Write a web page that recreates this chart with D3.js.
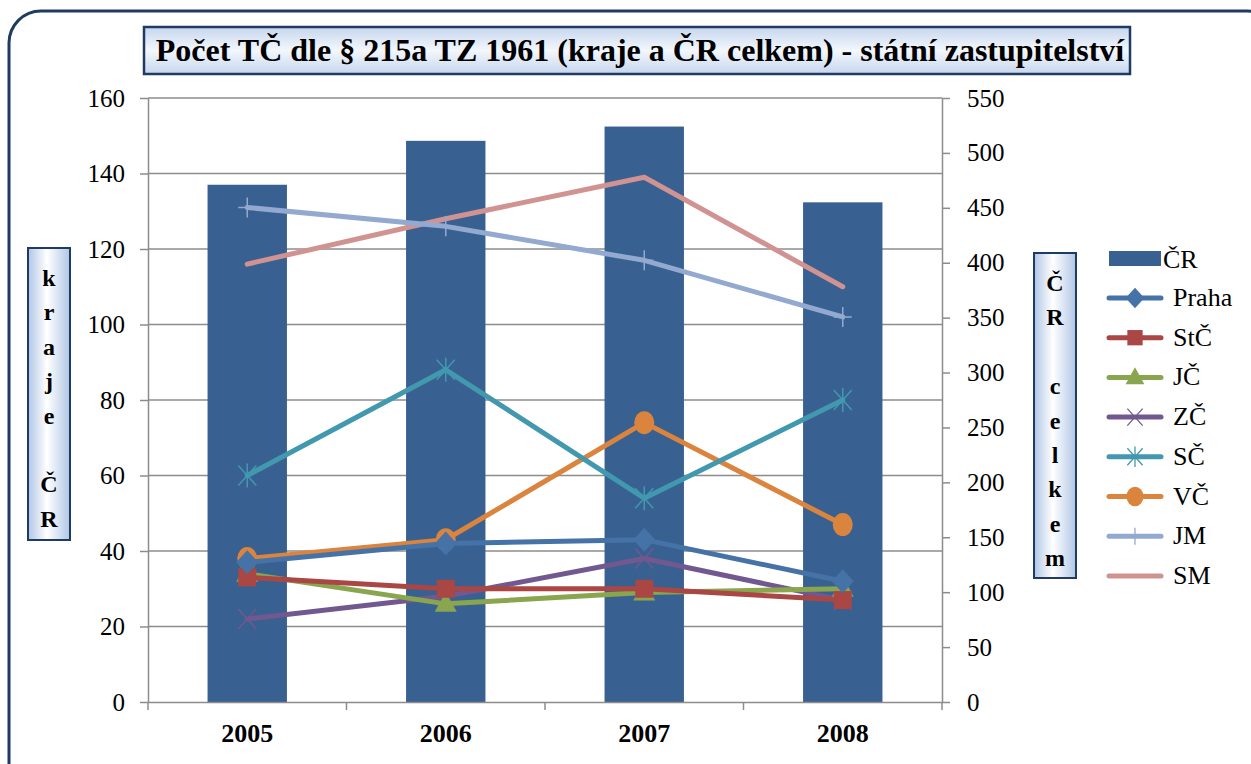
<!DOCTYPE html>
<html>
  <head>
    <meta charset="utf-8">
    <title>Počet TČ dle § 215a TZ 1961</title>
    <script src="https://cdn.jsdelivr.net/npm/d3@7"></script>
    <style>
      body { margin: 0; background: #fff; }
      svg { display: block; font-family: "Liberation Serif", "Times New Roman", serif; }
    </style>
  </head>
  <body>
    <svg id="chart" width="1251" height="764"></svg>

    <script>
      // data
      years = ["2005", "2006", "2007", "2008"];
      totalCR = [471, 511, 524, 455];
      regionNames = ["Praha", "StČ", "JČ", "ZČ", "SČ", "VČ", "JM", "SM"];
      praha = [37, 42, 43, 32];
      stc = [33, 30, 30, 27];
      jc = [34, 26, 29, 30];
      zc = [22, 28, 38, 27];
      sc = [60, 88, 54, 80];
      vc = [38, 43, 74, 47];
      jm = [131, 126, 117, 102];
      sm = [116, 128, 139, 110];
      leftTicks = [0, 20, 40, 60, 80, 100, 120, 140, 160];
      rightTicks = [0, 50, 100, 150, 200, 250, 300, 350, 400, 450, 500, 550];

      colours = ["#4572A7", "#AA4643", "#89A54E", "#71588F", "#4198AF", "#DB843D", "#93A9CF", "#D19392"];
      markers = ["diamond", "square", "triangle", "x", "star", "circle", "plus", "none"];
      series = [praha, stc, jc, zc, sc, vc, jm, sm].map(function(v, i) {
        return { name: regionNames[i], values: v, colour: colours[i], marker: markers[i] };
      });

      svg = d3.select("#chart");
      margin = { top: 98, left: 148, right: 942, bottom: 702 };
      font = "'Liberation Serif', 'Times New Roman', serif";

      defs = svg.append("defs");
      titleGrad = defs.append("linearGradient").attr("id", "titleGrad")
        .attr("x1", "0%").attr("x2", "0%").attr("y1", "0%").attr("y2", "100%");
      titleGrad.append("stop").attr("offset", "0%").attr("stop-color", "#C6D6EE");
      titleGrad.append("stop").attr("offset", "50%").attr("stop-color", "#F3F7FC");
      titleGrad.append("stop").attr("offset", "100%").attr("stop-color", "#C6D6EE");
      sideGrad = defs.append("linearGradient").attr("id", "sideGrad")
        .attr("x1", "0%").attr("x2", "100%").attr("y1", "0%").attr("y2", "0%");
      sideGrad.append("stop").attr("offset", "0%").attr("stop-color", "#B0C6E5");
      sideGrad.append("stop").attr("offset", "45%").attr("stop-color", "#FFFFFF");
      sideGrad.append("stop").attr("offset", "100%").attr("stop-color", "#B0C6E5");

      // outer frame
      svg.append("rect")
        .attr("x", 9).attr("y", 11)
        .attr("width", 1270).attr("height", 800)
        .attr("rx", 32)
        .attr("fill", "none")
        .attr("stroke", "#1F3A63")
        .attr("stroke-width", 3);

      // scales
      x = d3.scaleBand().domain(years).range([margin.left, margin.right]);
      yLeft = d3.scaleLinear().domain([0, 160]).range([margin.bottom, margin.top]);
      yRight = d3.scaleLinear().domain([0, 550]).range([margin.bottom, margin.top]);

      // gridlines
      svg.append("g")
        .selectAll("line")
        .data(leftTicks.slice(1))
        .join("line")
          .attr("x1", margin.left).attr("x2", margin.right)
          .attr("y1", d => yLeft(d)).attr("y2", d => yLeft(d))
          .attr("stroke", "#8C8C8C").attr("stroke-width", 1.5);

      // bars
      svg.append("g")
        .selectAll("rect")
        .data(years)
        .join("rect")
          .attr("x", d => x(d) + x.bandwidth() * 0.3)
          .attr("width", x.bandwidth() * 0.4)
          .attr("y", (d, i) => yRight(totalCR[i]))
          .attr("height", (d, i) => margin.bottom - yRight(totalCR[i]))
          .attr("fill", "#386192");

      // axes
      leftAxis = svg.append("g")
        .attr("transform", "translate(" + margin.left + ",0)")
        .call(d3.axisLeft(yLeft).tickValues(leftTicks).tickSize(8).tickSizeOuter(0).tickPadding(15));
      rightAxis = svg.append("g")
        .attr("transform", "translate(" + margin.right + ",0)")
        .call(d3.axisRight(yRight).tickValues(rightTicks).tickSize(8).tickSizeOuter(0).tickPadding(17));
      bottomAxis = svg.append("g")
        .attr("transform", "translate(0," + margin.bottom + ")")
        .call(d3.axisBottom(x).tickSize(0).tickPadding(22));
      // category boundary ticks
      svg.append("g")
        .selectAll("line")
        .data(d3.range(years.length + 1))
        .join("line")
          .attr("x1", i => margin.left + i * x.step())
          .attr("x2", i => margin.left + i * x.step())
          .attr("y1", margin.bottom).attr("y2", margin.bottom + 8)
          .attr("stroke", "#8C8C8C").attr("stroke-width", 1.5);

      [leftAxis, rightAxis, bottomAxis].forEach(function(a) {
        a.attr("font-family", null).attr("font-size", null);
        a.selectAll("path, line").attr("stroke", "#8C8C8C").attr("stroke-width", 1.5);
        a.selectAll("text").attr("fill", "#000").style("font-size", "25px")
          .style("font-family", font);
      });
      bottomAxis.selectAll("text").style("font-weight", "bold").style("font-size", "26px");

      // lines
      line = d3.line()
        .x((d, i) => x(years[i]) + x.bandwidth() / 2)
        .y(d => yLeft(d));

      function markerPath(type) {
        if (type == "diamond") return "M0,-12L11,0L0,12L-11,0Z";
        if (type == "square") return "M-9,-9H9V9H-9Z";
        if (type == "triangle") return "M0,-12L11,8H-11Z";
        if (type == "x") return "M-9,-10L9,10M-9,10L9,-10";
        if (type == "star") return "M-9,-10L9,10M-9,10L9,-10M0,-12V12";
        if (type == "plus") return "M0,-10V10M-9,0H9";
        return "";
      }

      function drawMarker(g, s, cx, cy, scale) {
        if (s.marker == "none") return;
        if (s.marker == "circle") {
          g.append("ellipse")
            .attr("cx", cx).attr("cy", cy)
            .attr("rx", 10 * scale).attr("ry", 11.5 * scale)
            .attr("fill", s.colour);
          return;
        }
        var open = s.marker == "x" || s.marker == "star" || s.marker == "plus";
        g.append("path")
          .attr("transform", "translate(" + cx + "," + cy + ") scale(" + scale + ")")
          .attr("d", markerPath(s.marker))
          .attr("fill", open ? "none" : s.colour)
          .attr("stroke", s.colour)
          .attr("stroke-width", open ? 1.5 : 0);
      }

      lineGroup = svg.append("g");
      series.slice().reverse().forEach(function(s) {
        var g = lineGroup.append("g");
        g.append("path")
          .attr("d", line(s.values))
          .attr("fill", "none")
          .attr("stroke", s.colour)
          .attr("stroke-width", 5)
          .attr("stroke-linejoin", "round")
          .attr("stroke-linecap", "round");
        s.values.forEach(function(v, i) {
          drawMarker(g, s, x(years[i]) + x.bandwidth() / 2, yLeft(v), 1);
        });
      });

      // title
      svg.append("rect")
        .attr("x", 144).attr("y", 27).attr("width", 986).attr("height", 47)
        .attr("fill", "url(#titleGrad)")
        .attr("stroke", "#1F3A63").attr("stroke-width", 2.5);
      svg.append("text")
        .attr("x", 640).attr("y", 61)
        .attr("text-anchor", "middle")
        .style("font-size", "32px").style("font-weight", "bold")
        .text("Počet TČ dle § 215a TZ 1961 (kraje a ČR celkem) - státní zastupitelství");

      // axis titles
      function sideTitle(x0, y0, h, letters) {
        svg.append("rect")
          .attr("x", x0).attr("y", y0).attr("width", 42).attr("height", h)
          .attr("fill", "url(#sideGrad)")
          .attr("stroke", "#1F3A63").attr("stroke-width", 2);
        svg.append("g")
          .selectAll("text")
          .data(letters)
          .join("text")
            .attr("x", x0 + 21)
            .attr("y", (d, i) => y0 + 38 + i * 34.4)
            .attr("text-anchor", "middle")
            .style("font-size", "24px").style("font-weight", "bold")
            .text(d => d);
      }
      sideTitle(28, 248, 292, ["k", "r", "a", "j", "e", "", "Č", "R"]);
      sideTitle(1034, 253, 325, ["Č", "R", "", "c", "e", "l", "k", "e", "m"]);

      // legend
      legend = svg.append("g");
      legend.append("rect")
        .attr("x", 1109).attr("y", 251).attr("width", 52).attr("height", 15)
        .attr("fill", "#386192");
      legend.append("text")
        .attr("x", 1163).attr("y", 268)
        .style("font-size", "26px")
        .text("ČR");
      series.forEach(function(s, i) {
        var ly = 298 + i * 39.7;
        var g = legend.append("g");
        g.append("line")
          .attr("x1", 1109).attr("x2", 1161)
          .attr("y1", ly).attr("y2", ly)
          .attr("stroke", s.colour).attr("stroke-width", 5)
          .attr("stroke-linecap", "round");
        drawMarker(g, s, 1135, ly, 0.85);
        g.append("text")
          .attr("x", 1173).attr("y", ly + 8)
          .style("font-size", "26px")
          .text(s.name);
      });
    </script>
  </body>
</html>
